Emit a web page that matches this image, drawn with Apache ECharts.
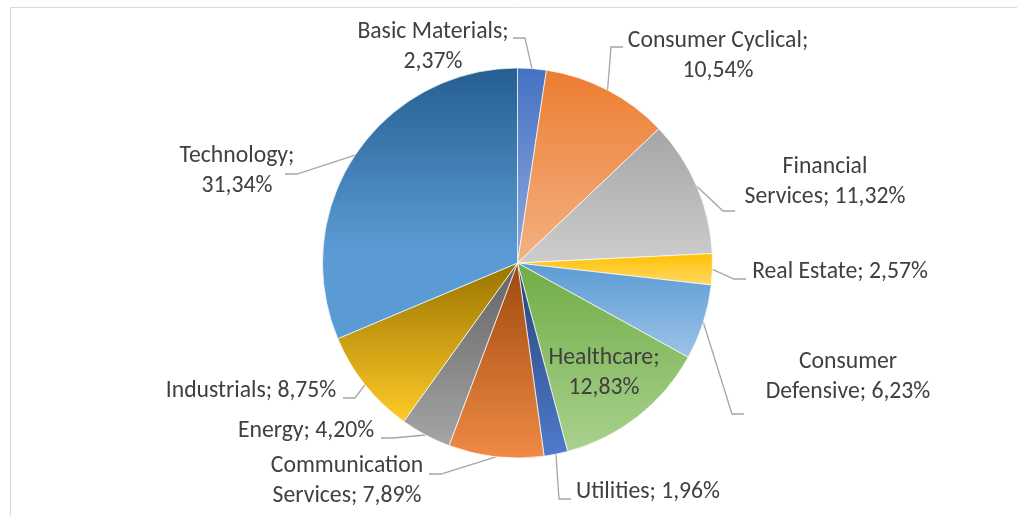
<!DOCTYPE html>
<html>
<head>
<meta charset="utf-8">
<script src="https://cdn.jsdelivr.net/npm/echarts@6/dist/echarts.min.js"></script>
<style>
  html, body { margin: 0; padding: 0; background: #fff; }
  #chart { width: 1017px; height: 516px; }
</style>
</head>
<body>
<div id="chart"></div>
<script>
const sectors = [
  'Basic Materials', 'Consumer Cyclical', 'Financial Services', 'Real Estate',
  'Consumer Defensive', 'Healthcare', 'Utilities', 'Communication Services',
  'Energy', 'Industrials', 'Technology'
]
const shares = [2.37, 10.54, 11.32, 2.57, 6.23, 12.83, 1.96, 7.89, 4.20, 8.75, 31.34]
// how each label wraps: after the semicolon, after the first word, or not at all
const wraps = ['semi', 'semi', 'word', 'none', 'word', 'semi', 'none', 'word', 'none', 'none', 'semi']

const topColors = ['#4472C4', '#ED7D31', '#A5A5A5', '#FFC000', '#5B9BD5', '#70AD47',
  '#264478', '#9E480E', '#636363', '#997300', '#255E91']
const bottomColors = ['#8FAADC', '#F4B183', '#CDCDCD', '#FFD966', '#9DC3E6', '#A9D18E',
  '#4F7BCB', '#F08A45', '#A5A5A5', '#FFCA28', '#5B9BD5']
const midStop = [1, 1, 1, 1, 1, 1, 1, 1, 1, 1, 0.68]

// label block centre and the text-side end of its leader line (layout only)
const labelSpots = [
  [433, 47, 513, 38],
  [718, 56, 623, 47],
  [825, 182, 735, 211],
  [840, 272, 746, 279],
  [848, 377, 744, 414],
  [604, 373, null, null],
  [648, 492, 571, 499],
  [347, 481, 429, 474],
  [306, 431, 381, 438],
  [251, 391, 343, 398],
  [237, 171, 285, 174]
]

const fmt = v => v.toFixed(2).replace('.', ',') + '%'

const labelText = i => {
  const name = sectors[i]
  const val = fmt(shares[i])
  if (wraps[i] === 'semi') return name + ';\n' + val
  if (wraps[i] === 'word') {
    const k = name.indexOf(' ')
    return name.slice(0, k) + '\n' + name.slice(k + 1) + '; ' + val
  }
  return name + '; ' + val
}

const chart = echarts.init(document.getElementById('chart'))

const option = {
  animation: false,
  backgroundColor: '#fff',
  graphic: [{
    type: 'rect',
    shape: { x: 10.5, y: 7.5, width: 1200, height: 700 },
    style: { fill: 'none', stroke: '#D9D9D9', lineWidth: 1 },
    silent: true
  }],
  series: [{
    type: 'pie',
    center: [517.5, 263],
    radius: 195,
    startAngle: 90,
    clockwise: true,
    avoidLabelOverlap: false,
    itemStyle: { borderColor: '#fff', borderWidth: 0.7 },
    label: {
      show: true,
      position: 'outside',
      formatter: p => labelText(p.dataIndex),
      color: '#404040',
      fontFamily: 'Carlito, Calibri, Lato, sans-serif',
      fontSize: 23.7,
      lineHeight: 30,
      align: 'center'
    },
    labelLine: {
      show: true,
      length: 10,
      length2: 10,
      lineStyle: { color: '#A6A6A6', width: 1.3 }
    },
    labelLayout: params => {
      const i = params.dataIndex
      const s = labelSpots[i]
      const out = { x: s[0], y: s[1], align: 'center', verticalAlign: 'middle' }
      if (s[2] !== null && params.labelLinePoints) {
        const edge = params.labelLinePoints[0]
        const elbowX = s[2] < 517 ? s[2] + 12 : s[2] - 12
        out.labelLinePoints = [edge, [elbowX, s[3]], [s[2], s[3]]]
      }
      return out
    },
    data: sectors.map((name, i) => ({
      name,
      value: shares[i],
      itemStyle: {
        color: {
          type: 'linear', x: 0, y: 0, x2: 0, y2: 1,
          colorStops: [
            { offset: 0, color: topColors[i] },
            { offset: midStop[i], color: bottomColors[i] },
            { offset: 1, color: bottomColors[i] }
          ]
        }
      },
      label: i === 5 ? { position: 'inside' } : undefined,
      labelLine: i === 5 ? { show: false } : undefined
    }))
  }]
}

chart.setOption(option)
</script>
</body>
</html>
